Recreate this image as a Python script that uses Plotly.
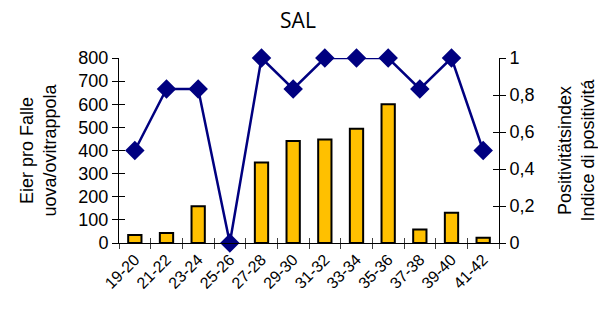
import plotly.graph_objects as go

categories = ["19-20", "21-22", "23-24", "25-26", "27-28", "29-30",
              "31-32", "33-34", "35-36", "37-38", "39-40", "41-42"]
eggs = [35, 43, 159, 0, 348, 441, 448, 494, 600, 58, 131, 23]
positivity = [0.5, 0.833, 0.833, 0, 1, 0.833, 1, 1, 1, 0.833, 1, 0.5]

W, H = 598, 309
L, R, T, B = 119, 99, 58, 66
pw = W - L - R
n = len(categories)
boundaries = [i - 0.5 for i in range(n + 1)]

def px(x):
    return (x - L) / pw

fig = go.Figure()
fig.add_trace(go.Bar(x=list(range(n)), y=eggs, marker=dict(color="#FFC000", line=dict(color="black", width=2)),
                     xaxis="x", yaxis="y", showlegend=False))
fig.add_trace(go.Scatter(x=list(range(n)), y=positivity, mode="lines+markers",
                         line=dict(color="#000080", width=2.5),
                         marker=dict(symbol="diamond", size=15, color="#000080"),
                         xaxis="x", yaxis="y2", cliponaxis=False, showlegend=False))

tickfont = dict(family="Liberation Sans, Arial", size=18, color="black")
fig.update_layout(
    width=W, height=H, margin=dict(l=L, r=R, t=T, b=B, autoexpand=False),
    plot_bgcolor="white", paper_bgcolor="white",
    separators=",.",
    bargap=0.58,
    title=dict(text="SAL", x=298 / W, xanchor="center", y=1 - 21 / H, yanchor="middle",
               font=dict(family="Open Sans", size=21, color="black")),
    xaxis=dict(range=[-0.5, n - 0.5], tickmode="array", tickvals=list(range(n)), ticktext=categories,
               tickangle=-45, ticks="", showline=True, linecolor="black", linewidth=1,
               tickfont=dict(family="Liberation Sans, Arial", size=16, color="black"),
               showgrid=False, zeroline=False, automargin=False),
    xaxis2=dict(range=[-0.5, n - 0.5], overlaying="x", tickmode="array", tickvals=boundaries,
                ticks="outside", ticklen=5, tickcolor="#404040", showticklabels=False, showgrid=False,
                zeroline=False, anchor="y"),
    xaxis3=dict(range=[-0.5, n - 0.5], overlaying="x", tickmode="array", tickvals=boundaries,
                ticks="inside", ticklen=5, tickcolor="#404040", showticklabels=False, showgrid=False,
                zeroline=False, anchor="y"),
    yaxis=dict(range=[0, 800], dtick=100, tick0=0, ticks="outside", ticklen=6, tickcolor="black",
               showline=True, linecolor="black", linewidth=1, tickfont=tickfont, showgrid=False,
               zeroline=False, automargin=False),
    yaxis3=dict(range=[0, 800], dtick=100, tick0=0, ticks="inside", ticklen=6, tickcolor="black",
                overlaying="y", side="left", showticklabels=False, showgrid=False, zeroline=False),
    yaxis2=dict(range=[0, 1], dtick=0.2, tick0=0, ticks="outside", ticklen=6, tickcolor="black",
                overlaying="y", side="right", showline=True, linecolor="black", linewidth=1,
                tickfont=tickfont, showgrid=False, zeroline=False, automargin=False),
    yaxis4=dict(range=[0, 1], dtick=0.2, tick0=0, ticks="inside", ticklen=6, tickcolor="black",
                overlaying="y", side="right", showticklabels=False, showgrid=False, zeroline=False),
)
# invisible traces to activate overlay axes
for xa, ya in [("x2", "y"), ("x3", "y"), ("x", "y3"), ("x", "y4")]:
    fig.add_trace(go.Scatter(x=[None], y=[None], xaxis=xa, yaxis=ya, showlegend=False, hoverinfo="skip"))

titlefont = dict(family="Liberation Sans, Arial", size=18, color="black")
fig.add_annotation(text="Eier pro Falle<br>uova/ovitrappola", xref="paper", yref="paper",
                   x=px(38), y=0.5, textangle=-90, showarrow=False, font=titlefont,
                   xanchor="center", yanchor="middle")
fig.add_annotation(text="Positivitätsindex<br>Indice di positivitá", xref="paper", yref="paper",
                   x=px(576), y=0.5, textangle=-90, showarrow=False, font=titlefont,
                   xanchor="center", yanchor="middle")

fig.write_html("out.html", config={"displayModeBar": False},
               post_script="document.body.style.margin='0';document.body.style.overflow='hidden';")
